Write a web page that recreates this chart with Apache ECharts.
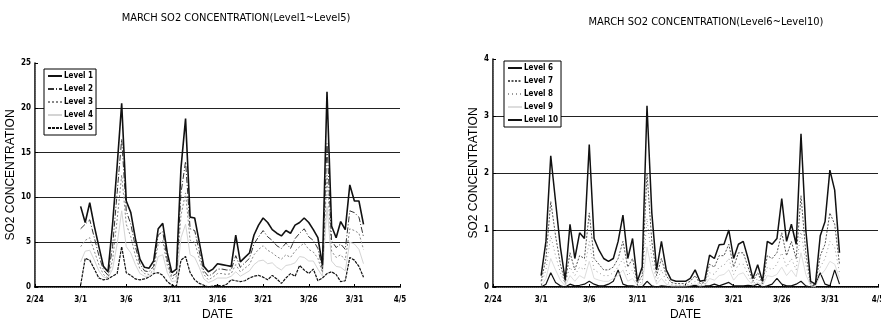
<!DOCTYPE html>
<html><head><meta charset="utf-8">
<script src="https://cdn.jsdelivr.net/npm/echarts@6/dist/echarts.min.js"></script>
<style>html,body{margin:0;padding:0;background:#fff}#c{width:881px;height:322px}</style>
</head><body><div id="c"></div>
<script>
// Day offset from 2/24 (3/1 = 5), half-day steps through March
const times = [5,5.5,6,6.5,7,7.5,8,8.5,9,9.5,10,10.5,11,11.5,12,12.5,13,13.5,14,14.5,15,15.5,16,16.5,17,17.5,18,18.5,19,19.5,20,20.5,21,21.5,22,22.5,23,23.5,24,24.5,25,25.5,26,26.5,27,27.5,28,28.5,29,29.5,30,30.5,31,31.5,32,32.5,33,33.5,34,34.5,35,35.5,36];
const xTickLabels = ['2/24','3/1','3/6','3/11','3/16','3/21','3/26','3/31','4/5'];

const level1 = [9.0,7.2,9.4,6.8,4.5,2.3,1.7,7.0,13.5,20.5, 9.6,8.3,5.4,3.1,2.2,2.1,2.9,6.5,7.1,3.8, 1.6,2.0,13.3,18.8,7.8,7.7,5.0,2.3,1.7,2.0, 2.6,2.5,2.4,2.3,5.8,2.8,3.3,3.8,5.8,6.9, 7.7,7.2,6.4,6.0,5.7,6.3,6.0,6.9,7.2,7.7, 7.2,6.4,5.5,2.4,21.8,6.8,5.5,7.3,6.4,11.4, 9.6,9.6,7.0];
const level2 = [6.5,7.0,7.5,5.5,3.5,1.9,1.3,4.5,10.5,16.5, 8.5,7.0,4.5,2.6,1.8,1.7,2.3,5.8,6.2,3.0, 1.2,1.5,10.5,14.0,6.5,6.3,4.0,1.8,1.2,1.5, 2.0,2.0,1.9,1.9,3.5,2.2,2.7,3.2,4.8,5.6, 6.3,5.6,5.2,4.6,4.3,4.9,4.3,5.4,6.0,6.5, 5.6,5.2,4.3,2.0,16.0,5.2,4.4,4.8,4.2,8.5, 8.3,7.8,5.6];
const level3 = [4.5,5.2,5.5,4.0,2.5,1.4,1.0,3.0,7.5,12.5, 7.0,5.6,3.5,2.0,1.5,1.4,1.9,4.8,5.2,2.4, 0.9,1.2,8.0,10.5,5.2,5.0,3.2,1.4,0.8,1.1, 1.5,1.5,1.4,1.5,2.5,1.7,2.1,2.5,3.6,4.2, 4.6,4.1,3.8,3.4,3.1,3.6,3.3,4.0,4.5,4.9, 4.2,3.9,3.2,1.6,12.5,4.0,3.3,3.6,3.0,6.5, 6.3,6.0,4.2];
const level4 = [2.8,4.0,4.1,3.0,1.8,1.1,1.0,2.0,4.8,8.5, 4.5,3.8,2.5,1.5,1.2,1.2,1.6,3.4,3.6,1.6, 0.6,0.7,5.5,7.0,3.6,3.3,2.2,0.9,0.5,0.7, 1.0,1.0,1.0,1.2,1.7,1.2,1.5,1.8,2.5,2.9, 3.0,2.6,2.7,2.2,1.9,2.4,2.5,2.7,3.4,3.3, 2.9,2.9,2.0,1.2,9.0,2.9,2.3,2.2,1.8,5.0, 4.8,4.2,2.6];
const level5 = [0.2,3.2,3.0,2.0,1.0,0.8,0.9,1.2,1.5,4.5, 1.6,1.3,0.9,0.8,0.9,1.1,1.5,1.6,1.3,0.6, 0.2,0.1,3.0,3.4,1.6,0.8,0.4,0.2,0.0,0.1, 0.2,0.1,0.3,0.8,0.7,0.6,0.7,1.0,1.2,1.3, 1.1,0.8,1.3,0.9,0.4,1.0,1.5,1.2,2.4,1.9, 1.5,2.0,0.7,1.0,1.5,1.7,1.4,0.6,0.7,3.3, 3.0,2.3,1.1];

const level6 = [0.2,0.8,2.3,1.5,0.7,0.12,1.1,0.5,0.95,0.85, 2.5,0.85,0.65,0.5,0.45,0.5,0.8,1.26,0.5,0.85, 0.1,0.35,3.18,1.3,0.3,0.8,0.3,0.13,0.1,0.1, 0.1,0.15,0.3,0.1,0.12,0.56,0.5,0.74,0.75,1.0, 0.5,0.75,0.8,0.5,0.15,0.39,0.1,0.8,0.75,0.85, 1.55,0.8,1.1,0.75,2.69,1.0,0.1,0.05,0.9,1.15, 2.05,1.7,0.6];
const level7 = [0.1,0.5,1.5,0.9,0.4,0.08,0.6,0.3,0.55,0.5, 1.3,0.5,0.4,0.3,0.3,0.35,0.5,0.8,0.35,0.5, 0.06,0.2,2.0,0.8,0.2,0.5,0.2,0.08,0.06,0.06, 0.06,0.1,0.2,0.06,0.08,0.4,0.35,0.55,0.55,0.75, 0.35,0.6,0.6,0.35,0.1,0.25,0.06,0.55,0.5,0.6, 0.95,0.55,0.8,0.5,1.6,0.6,0.06,0.04,0.55,0.75, 1.3,1.1,0.4];
const level8 = [0.05,0.3,0.9,0.55,0.25,0.05,0.35,0.2,0.35,0.3, 0.8,0.3,0.25,0.2,0.2,0.25,0.35,0.5,0.2,0.3, 0.04,0.1,1.2,0.5,0.1,0.3,0.1,0.04,0.03,0.03, 0.03,0.05,0.1,0.03,0.05,0.25,0.22,0.35,0.38,0.5, 0.22,0.4,0.4,0.22,0.05,0.15,0.03,0.35,0.3,0.4, 0.6,0.35,0.5,0.3,1.0,0.4,0.03,0.02,0.35,0.5, 0.8,0.7,0.25];
const level9 = [0.02,0.15,0.5,0.3,0.12,0.02,0.2,0.1,0.2,0.15, 0.45,0.15,0.12,0.1,0.1,0.15,0.2,0.3,0.1,0.15, 0.02,0.05,0.7,0.3,0.05,0.15,0.05,0.02,0.02,0.02, 0.02,0.03,0.05,0.02,0.03,0.15,0.12,0.2,0.22,0.3, 0.12,0.22,0.25,0.12,0.03,0.08,0.02,0.2,0.18,0.22, 0.35,0.2,0.3,0.18,0.6,0.22,0.02,0.01,0.2,0.3, 0.45,0.4,0.15];
const level10 = [0,0.05,0.25,0.08,0.02,0,0.05,0.02,0.03,0.05, 0.1,0.05,0.02,0.02,0.05,0.1,0.3,0.05,0.02,0.02, 0,0,0.1,0.02,0,0.02,0.01,0,0,0, 0,0.02,0.03,0.01,0.02,0.02,0.05,0.02,0.05,0.08, 0.02,0.02,0.02,0.03,0.02,0.05,0,0.02,0.05,0.15, 0.05,0.02,0.02,0.05,0.1,0.02,0,0.05,0.25,0.05, 0.02,0.3,0.05];

const leftNames = ['Level 1','Level 2','Level 3','Level 4','Level 5'];
const rightNames = ['Level 6','Level 7','Level 8','Level 9','Level 10'];

const narrow = "'Liberation Sans Narrow','DejaVu Sans Condensed',sans-serif";
const regular = "'Liberation Sans','DejaVu Sans',sans-serif";

function pairs(arr){ return times.map((t,i)=>[t, arr[i]]); }

const leftStyles = [
  {color:'#111', width:1.6, type:'solid'},
  {color:'#333', width:1, type:[6,2,1,2]},
  {color:'#888', width:1, type:[2,2]},
  {color:'#d4d4d4', width:1, type:'solid'},
  {color:'#111', width:1.2, type:[3,1]}
];
const rightStyles = [
  {color:'#111', width:1.5, type:'solid'},
  {color:'#555', width:1, type:[2,1.5]},
  {color:'#999', width:1, type:[1,3]},
  {color:'#ddd', width:1, type:'solid'},
  {color:'#111', width:1.2, type:'solid'}
];
const leftData = [level1, level2, level3, level4, level5];
const rightData = [level6, level7, level8, level9, level10];

function mkX(gi, top){
  if (top) return {type:'value', gridIndex:gi, position:'top', min:0, max:40, interval:5,
    axisLine:{show:true, lineStyle:{color:'#666', width:1, type:'dotted'}}, axisTick:{show:false}, axisLabel:{show:false}, splitLine:{show:false}};
  return {type:'value', gridIndex:gi, min:0, max:40, interval:5,
    name:'DATE', nameLocation:'middle', nameGap:22, nameTextStyle:{fontFamily:regular, fontSize:12, color:'#000'},
    axisLine:{show:true, onZero:false, lineStyle:{color:'#000', width:2}},
    axisTick:{show:true, inside:true, length:3, lineStyle:{color:'#000'}},
    axisLabel:{fontFamily:narrow, fontSize:8, fontWeight:'bold', color:'#000', margin:9,
      formatter:v=>xTickLabels[Math.round(v/5)]},
    splitLine:{show:false}};
}
function mkY(gi, max, interval, right, gap){
  if (right) return {type:'value', gridIndex:gi, position:'right', min:0, max:max, interval:interval,
    axisLine:{show:true, lineStyle:{color:'#666', width:1, type:'dotted'}}, axisTick:{show:false}, axisLabel:{show:false}, splitLine:{show:false}};
  return {type:'value', gridIndex:gi, min:0, max:max, interval:interval,
    name:'SO2 CONCENTRATION', nameLocation:'middle', nameGap:gap, nameRotate:90,
    nameTextStyle:{fontFamily:regular, fontSize:12, color:'#000'},
    axisLine:{show:true, lineStyle:{color:'#000', width:1.5}},
    axisTick:{show:true, inside:true, length:3, lineStyle:{color:'#000'}},
    axisLabel:{fontFamily:narrow, fontSize:8, fontWeight:'bold', color:'#000', margin:4},
    splitLine:{show:true, showMinLine:false, showMaxLine:false, lineStyle:{color:'#222', width:1}}};
}

const series = [];
leftData.forEach((d,i)=>series.push({name:leftNames[i], type:'line', xAxisIndex:0, yAxisIndex:0, symbol:'none',
  data:pairs(d), lineStyle:leftStyles[i], itemStyle:{color:leftStyles[i].color}, z:10-i, animation:false}));
rightData.forEach((d,i)=>series.push({name:rightNames[i], type:'line', xAxisIndex:2, yAxisIndex:2, symbol:'none',
  data:pairs(d), lineStyle:rightStyles[i], itemStyle:{color:rightStyles[i].color}, z:(i===0?10:9-i), animation:false}));

const legendBase = {orient:'vertical', itemWidth:14, itemHeight:8, itemGap:5, padding:[3,3,3,3],
  borderColor:'#000', borderWidth:1, backgroundColor:'#fff', z:20,
  itemStyle:{opacity:0},
  textStyle:{fontFamily:narrow, fontSize:8, fontWeight:'bold', color:'#000', padding:[0,0,0,-3]}};

const chart = echarts.init(document.getElementById('c'), null, {renderer:'canvas'});
chart.setOption({
  animation:false,
  backgroundColor:'#fff',
  title:[
    {text:'MARCH SO2 CONCENTRATION(Level1~Level5)', left:231, top:8, textAlign:'center',
     textStyle:{fontFamily:narrow, fontSize:11, fontWeight:'normal', color:'#000'}},
    {text:'MARCH SO2 CONCENTRATION(Level6~Level10)', left:701, top:12, textAlign:'center',
     textStyle:{fontFamily:narrow, fontSize:11, fontWeight:'normal', color:'#000'}}
  ],
  legend:[
    Object.assign({}, legendBase, {data:leftNames, left:44, top:69}),
    Object.assign({}, legendBase, {data:rightNames, left:504, top:61})
  ],
  grid:[
    {left:35, top:63, width:365, height:224, outerBoundsMode:'none', containLabel:false},
    {left:493, top:59, width:385, height:228, outerBoundsMode:'none', containLabel:false}
  ],
  xAxis:[mkX(0,false), mkX(0,true), mkX(1,false), mkX(1,true)],
  yAxis:[mkY(0,25,5,false,16), mkY(0,25,5,true), mkY(1,4,1,false,8), mkY(1,4,1,true)],
  series:series
});
</script></body></html>
